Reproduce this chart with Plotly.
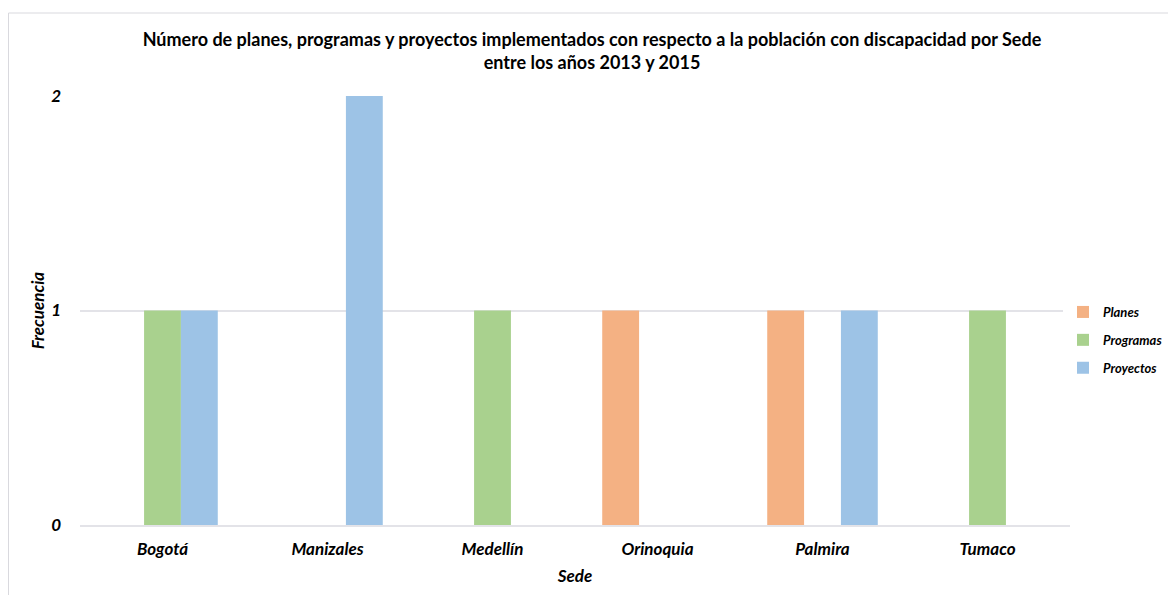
import plotly.graph_objects as go

categories = ["Bogotá", "Manizales", "Medellín", "Orinoquia", "Palmira", "Tumaco"]
planes = [0, 0, 0, 1, 1, 0]
programas = [1, 0, 1, 0, 0, 1]
proyectos = [1, 2, 0, 0, 1, 0]
series_names = ["Planes", "Programas", "Proyectos"]
colors = ["#f4b183", "#a9d18e", "#9dc3e6"]
y_ticks = [0, 1, 2]

lab_font = dict(family="Lato", size=17, color="#000000", weight="bold", style="italic")

fig = go.Figure()
for name, vals, c in zip(series_names, [planes, programas, proyectos], colors):
    fig.add_trace(go.Bar(x=categories, y=vals, name=name, legendgroup=name,
                         marker=dict(color=c, line=dict(width=0))))

# page has an 8px body margin, so the figure is placed at (8, 8)
W, H = 1168, 587
L, R, T, B = 72, 106, 88, 70
pw, ph = W - L - R, H - T - B

fig.update_layout(
    width=W, height=H,
    margin=dict(l=L, r=R, t=T, b=B, autoexpand=False),
    paper_bgcolor="white", plot_bgcolor="white",
    barmode="group", bargap=0.33, bargroupgap=0,
    title=dict(
        text="Número de planes, programas y proyectos implementados con respecto a la población con discapacidad por Sede<br>entre los años 2013 y 2015",
        x=0.5, xanchor="center", y=1 - 38 / H, yanchor="top",
        font=dict(family="Lato", size=18, color="#000000", weight="bold"),
    ),
    legend=dict(
        x=(1055 - L) / pw, xanchor="left", y=(H - B - 332) / ph, yanchor="middle",
        font=dict(family="Lato", size=13, color="#000000", weight="bold", style="italic"),
        itemwidth=30, tracegroupgap=8,
    ),
    xaxis=dict(
        tickfont=lab_font, showgrid=False, showline=True, linecolor="#e3e3e8", linewidth=1.5,
        ticks="", ticklabelstandoff=8, automargin=False,
        title=dict(text="Sede", font=lab_font, standoff=12),
    ),
    yaxis=dict(
        range=[0, 2], tickvals=y_ticks, tickfont=lab_font, showgrid=True,
        gridcolor="#e3e3e8", gridwidth=1.5, zeroline=False, ticks="", ticklabelstandoff=18,
        automargin=False,
        title=dict(text="Frecuencia", font=lab_font, standoff=2),
    ),
    showlegend=True,
)

# chart frame border
fig.add_shape(type="rect", xref="paper", yref="paper",
              x0=(0.5 - L) / pw, x1=(W + 5 - L) / pw,
              y0=-(B + 10) / ph, y1=1 + (T - 5) / ph,
              line=dict(color="#d9d9de", width=1), fillcolor="rgba(0,0,0,0)", layer="below")

fig.write_html("out.html")
